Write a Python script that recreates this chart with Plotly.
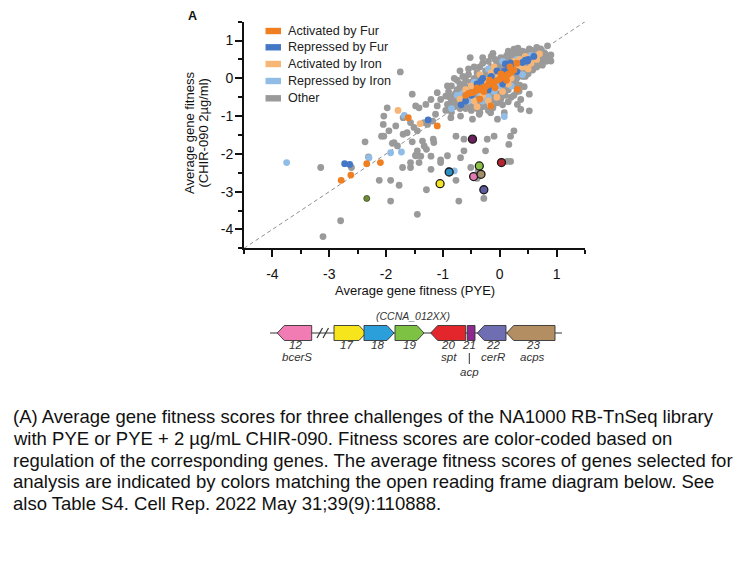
import plotly.graph_objects as go

W, H = 756, 567
FONT = "Arial, Liberation Sans, sans-serif"

# ---------------- data ----------------
x_ticks = [-4, -3, -2, -1, 0, 1]
x_ticklabels = ["-4", "-3", "-2", "-1", "0", "1"]
y_ticks = [-4, -3, -2, -1, 0, 1]
y_ticklabels = ["-4", "-3", "-2", "-1", "0", "1"]

other_x = [
    -1.75, -0.52, -0.12, 0.84, 0.90, 0.60, 0.25, 0.78, -1.54, -1.48, -1.42, -1.30, -1.10,
    -2.04, -1.98, -1.83, -1.70, -1.95, -2.08, -2.37, -1.89, -1.80, -2.31, -2.12, -1.92,
    -1.77, -1.92, -1.29, -1.45, -0.72, -0.28, -0.77, -2.80, -3.11, -3.15, -0.77, -0.63,
    -0.22, -0.10, 0.16, 0.19, 0.25, -0.25, 0.19, 0.13, -0.63, -0.51, -0.92, -1.04, -1.16,
    -1.33, -1.45, -1.48, -1.42, -1.57, -1.57, -1.71, -1.21, -0.69, 0.31, 0.37, 0.52, 0.37,
    0.08, -0.16, -0.48, -0.36, -0.04, -0.28, -0.69, -0.86, 0.34, 0.52, 0.43, -0.95, -1.10,
    -1.04, -1.21, -0.92, -0.80, -2.61, -1.36, -1.54, -1.63, -1.70, -1.86, -2.04, -2.05,
    -1.57, -1.51, -1.45, -1.33, -1.27, -1.18, -1.13, -1.17, -1.29, -1.39, -1.48, -1.21,
    -1.04, -0.40, -0.38,
    0.30, 0.35, 0.42, 0.48, 0.55, 0.60, 0.65, 0.70, 0.75, 0.80, 0.58, 0.45, 0.50, 0.38,
    0.62, 0.68, 0.72, 0.52, 0.40, 0.33, 0.25, 0.28, 0.20, 0.15, 0.22, 0.85, 0.55, 0.45,
    0.35, 0.40, 0.10, 0.05, 0.12, -0.05, -0.15, -0.10, 0.00, 0.18, 0.25, 0.30, 0.20, 0.10,
    0.25, 0.15, 0.05, -0.05, -0.20, -0.25, -0.30, -0.35, -0.25, -0.15, 0.00, -0.10, 0.10,
    0.20, -0.20, -0.30, -0.40, -0.45, -0.40, -0.55, -0.50, -0.60, -0.35, -0.20, 0.30, 0.28,
    -0.50, -0.60, -0.70, -0.65, -0.75, -0.55, -0.45, -0.35, -0.70, -0.80, -0.85, -0.75,
    -0.65, -0.55, -0.45, -0.60, -0.70, -0.80, -0.90, -0.95, -0.85, -0.50, -0.40, -0.30,
    -0.25, -0.15, -0.05, 0.05, -0.20, -0.75, -0.85, -0.90, -0.80,
    0.00, -0.10, 0.15, 0.05, -0.20, 0.35, 0.45, 0.55, -0.45, -0.30, -0.15, 0.08, 0.38,
    0.48, 0.62, 0.70, -0.62, -0.38, -0.25,
    0.02, -0.08, 0.12, -0.30, -0.45, -0.55, -0.65, -0.70, -0.78, -0.62, -0.48, -0.35,
    -0.12, 0.02, 0.15, 0.25, 0.35, 0.45, 0.50, 0.58, 0.65, 0.75, 0.82, 0.90, 0.65, 0.55,
    0.32, 0.15, -0.40, -0.52, -0.42, -0.28, -0.12, 0.12, 0.22, 0.32, 0.42, 0.28, -0.02,
    -0.22, -0.38, -0.58, -0.72, -0.88, -0.92, -0.70, -0.15, -0.30,
]
other_y = [
    0.17, 0.55, 0.66, 0.86, 0.46, 0.72, 0.77, 0.68, -0.42, -0.73, -0.78, -0.69, -0.73,
    -1.00, -0.78, -1.26, -1.04, -1.39, -1.53, -1.68, -1.72, -1.79, -2.08, -2.70, -2.70,
    -2.83, -3.25, -2.95, -3.60, -3.25, -3.18, -2.70, -3.77, -4.19, -2.36, -1.53, -1.61,
    -1.61, -1.53, -1.75, -1.53, -1.39, -1.92, -2.20, -2.20, -1.92, -2.36, -2.05, -2.23, -1.70,
    -1.79, -1.92, -2.05, -2.23, -2.23, -2.36, -2.36, -2.41, -2.10, -0.69, -0.82, -0.86, -0.56,
    -0.91, -0.91, -1.08, -0.95, -1.08, -0.73, -1.00, -1.04, -0.34, -0.42, -0.22, -0.47, -0.38,
    -0.56, -0.56, -0.69, -0.56, -2.36, -1.66, -1.68, -1.44, -1.48, -1.70, -1.53, -1.22,
    -1.17, -1.30, -1.39, -1.17, -1.22, -1.13, -0.95, -1.61, -1.88, -2.06, -2.04, -2.06,
    -2.16, -2.65, -2.45,
    0.45, 0.55, 0.62, 0.70, 0.62, 0.55, 0.68, 0.60, 0.52, 0.65, 0.40, 0.35, 0.48, 0.30,
    0.45, 0.38, 0.78, 0.78, 0.72, 0.65, 0.58, 0.70, 0.62, 0.50, 0.40, 0.55, 0.30, 0.20,
    0.15, 0.05, 0.45, 0.35, 0.30, 0.40, 0.30, 0.20, 0.25, 0.20, 0.10, 0.00, -0.05, -0.10,
    -0.20, -0.30, -0.25, -0.15, 0.10, 0.20, 0.05, -0.05, -0.10, -0.25, -0.40, -0.45, -0.45,
    -0.50, -0.40, -0.30, -0.20, 0.00, 0.15, 0.10, -0.10, -0.05, 0.30, 0.45, -0.35, -0.10,
    -0.30, -0.25, -0.15, -0.35, -0.30, -0.50, -0.55, -0.50, -0.50, -0.45, -0.60, -0.65,
    -0.60, -0.70, -0.70, -0.80, -0.80, -0.75, -0.70, -0.85, -0.90, -0.85, -0.80, -0.75,
    -0.60, -0.60, -0.65, -0.70, -0.85, -0.05, -0.20, -0.35, 0.00,
    0.10, 0.05, 0.05, 0.15, -0.05, 0.35, 0.45, 0.50, -0.40, -0.15, -0.10, -0.18, 0.22,
    0.58, 0.72, 0.48, -0.18, -0.62, -0.32,
    0.55, 0.50, 0.60, 0.40, 0.30, 0.25, 0.05, -0.25, -0.40, -0.70, -0.78, -0.90,
    -0.78, -0.55, -0.62, -0.45, -0.18, 0.05, 0.12, 0.22, 0.30, 0.35, 0.45, 0.62, 0.82, 0.75,
    0.80, 0.72, -0.05, -0.22, -0.48, -0.55, -0.42, -0.30, -0.12, 0.08, 0.40, 0.32, 0.28,
    0.05, -0.18, -0.38, -0.62, -0.50, -0.20, 0.20, 0.58, 0.55,
]

rep_iron_x = [-3.75, -2.30, -1.92, -1.73, -1.68, -0.80, 0.08, -0.30, -0.20, -0.10, -0.55,
              -0.65, 0.00, 0.20, 0.40, 0.55, 0.65, -0.45, -0.75, 0.30, 0.05, -0.20, -0.85,
              -0.35, 0.15, -0.05]
rep_iron_y = [-2.23, -2.10, -1.97, -1.95, -0.98, -2.45, -1.01, -0.60, -0.50, -0.35, -0.60,
              -0.40, -0.20, -0.20, 0.10, 0.60, 0.60, -0.10, -0.45, 0.50, 0.45, 0.25, -0.80,
              -0.40, 0.38, 0.00]

act_iron_x = [0.35, 0.25, 0.10, -0.10, 0.40, 0.55, 0.65, 0.70, -0.25, -0.35, -0.50, -0.45,
              -0.30, 0.05, 0.20, 0.30, -0.60, -0.70, -0.15, 0.50, -1.79, -1.40, -0.05, 0.15,
              -0.40, 0.45, -0.02, -0.20]
act_iron_y = [0.50, 0.45, 0.20, 0.30, 0.30, 0.40, 0.50, 0.65, -0.05, 0.10, -0.20, -0.60,
              -0.45, -0.35, 0.00, 0.25, -0.30, -0.55, 0.15, 0.25, -0.85, -1.20, -0.50, -0.15,
              -0.75, 0.58, 0.05, -0.60]

rep_fur_x = [0.50, 0.45, 0.40, 0.60, 0.20, 0.15, -0.15, -0.30, -0.05, 0.10, -0.40, -0.50,
             -0.20, 0.05, 0.30, -0.60, -0.68, -1.26, -2.73, -2.64, -0.33, 0.08, 0.19, 0.49,
             -0.90]
rep_fur_y = [0.50, 0.48, 0.42, 0.58, 0.35, 0.25, 0.05, 0.00, 0.20, 0.38, -0.15, -0.45,
             -0.30, -0.15, 0.18, -0.60, -0.70, -1.10, -2.26, -2.28, -0.07, 0.19, 0.41, 0.46,
             -2.45]

act_fur_x = [-0.55, -0.48, -0.42, -0.36, -0.30, -0.25, -0.20, -0.15, -0.10, -0.05, 0.00,
             0.05, 0.10, 0.15, 0.20, 0.25, -0.40, -0.28, -0.18, 0.02, 0.12, -0.08, 0.18,
             0.30, -0.35, -0.60, 0.31, -0.16, -2.79, -2.62, -2.34, -2.10, -1.61, -1.10]
act_fur_y = [-0.40, -0.38, -0.33, -0.30, -0.26, -0.22, -0.17, -0.14, -0.10, -0.06, -0.02,
             0.03, 0.07, 0.11, 0.16, 0.22, -0.25, -0.35, -0.05, 0.12, -0.05, -0.25, 0.30,
             0.40, -0.55, -0.45, -0.29, -0.73, -2.70, -2.56, -2.26, -2.23, -1.04, -1.26]

# selected genes (CCNA_012XX) and their average fitness
sel_genes = ["12 bcerS", "17", "18", "19", "20 spt", "21 acp", "22 cerR", "23 acps"]
sel_x = [-0.46, -1.05, -0.89, -0.36, 0.03, -0.48, -0.28, -0.33]
sel_y = [-2.60, -2.79, -2.48, -2.32, -2.23, -1.61, -2.95, -2.54]
sel_colors = ["#e07ab0", "#f2e324", "#2b8fc4", "#8cbf45", "#b52431", "#6e1f5e", "#5e5c9e", "#a39068"]
extra_x = [-2.34]
extra_y = [-3.18]

legend_names = ["Activated by Fur", "Repressed by Fur", "Activated by Iron", "Repressed by Iron", "Other"]
legend_colors = ["#f07f22", "#4478c6", "#f8b676", "#90bce6", "#9a9a9a"]

x_title = "Average gene fitness (PYE)"
y_title_lines = ["Average gene fitness", "(CHIR-090 2\u00b5g/ml)"]

orf_numbers = ["12", "17", "18", "19", "20", "21", "22", "23"]
orf_names = ["bcerS", "", "", "", "spt", "acp", "cerR", "acps"]
orf_colors = ["#f07cb3", "#f6e41c", "#2a9fda", "#7dc243", "#e3262c", "#8c2a8f", "#6f6eb2", "#b48e63"]
orf_caption = "(CCNA_012XX)"

caption_lines = [
    "(A) Average gene fitness scores for three challenges of the NA1000 RB-TnSeq library",
    "with PYE or PYE + 2 \u00b5g/mL CHIR-090. Fitness scores are color-coded based on",
    "regulation of the corresponding genes. The average fitness scores of genes selected for",
    "analysis are indicated by colors matching the open reading frame diagram below. See",
    "also Table S4. Cell Rep. 2022 May 31;39(9):110888.",
]

# ---------------- helpers (pixel -> paper) ----------------
def PX(x):
    return x / W

def PY(y):
    return 1 - y / H

PLOT_L, PLOT_R, PLOT_T, PLOT_B = 244, 585, 21.7, 248.3

fig = go.Figure()

# reference diagonal
fig.add_trace(go.Scatter(x=[-4.5, 1.5], y=[-4.5, 1.5], mode="lines",
                         line=dict(color="#8f8f8f", width=1, dash="4px,3px"),
                         showlegend=False, hoverinfo="skip"))

MS = 6.8
series = [
    ("Other", other_x, other_y, legend_colors[4]),
    ("Repressed by Iron", rep_iron_x, rep_iron_y, legend_colors[3]),
    ("Activated by Iron", act_iron_x, act_iron_y, legend_colors[2]),
    ("Repressed by Fur", rep_fur_x, rep_fur_y, legend_colors[1]),
    ("Activated by Fur", act_fur_x, act_fur_y, legend_colors[0]),
]
for name, xs, ys, col in series:
    fig.add_trace(go.Scatter(x=xs, y=ys, mode="markers", name=name,
                             marker=dict(size=MS, color=col, line=dict(width=0)),
                             showlegend=False))

fig.add_trace(go.Scatter(x=extra_x, y=extra_y, mode="markers", name="other selected",
                         marker=dict(size=6, color="#6f8a3a", line=dict(width=0.8, color="#3a4a20")),
                         showlegend=False))
fig.add_trace(go.Scatter(x=sel_x, y=sel_y, mode="markers", name="Selected genes",
                         text=sel_genes,
                         marker=dict(size=8, color=sel_colors, line=dict(width=1.3, color="#1a1a1a")),
                         showlegend=False))

shapes = []
annotations = []

# custom legend
leg_rows = [31, 47.3, 64, 81, 98.3]
for name, col, yy in zip(legend_names, legend_colors, leg_rows):
    shapes.append(dict(type="rect", xref="paper", yref="paper",
                       x0=PX(265.5), x1=PX(281), y0=PY(yy - 3.2), y1=PY(yy + 3.2),
                       fillcolor=col, line=dict(width=0)))
    annotations.append(dict(xref="paper", yref="paper", x=PX(285.5), y=PY(yy), text=name,
                            showarrow=False, xanchor="left", yanchor="middle",
                            font=dict(family=FONT, size=12.6, color="#222")))

# panel label
annotations.append(dict(xref="paper", yref="paper", x=PX(186), y=PY(16), text="<b>A</b>",
                        showarrow=False, xanchor="left", yanchor="middle",
                        font=dict(family=FONT, size=12.5, color="#111")))

# axis titles
annotations.append(dict(xref="paper", yref="paper", x=PX(415), y=PY(290), text=x_title,
                        showarrow=False, xanchor="center", yanchor="middle",
                        font=dict(family=FONT, size=13, color="#111")))
for xx, t in zip([190, 203.5], y_title_lines):
    annotations.append(dict(xref="paper", yref="paper", x=PX(xx), y=PY(133), text=t,
                            textangle=-90, showarrow=False, xanchor="center", yanchor="middle",
                            font=dict(family=FONT, size=13, color="#111")))

# ORF diagram
TOP, BOT, MID = 325.5, 340.5, 333
shapes.append(dict(type="line", xref="paper", yref="paper", x0=PX(270), x1=PX(562),
                   y0=PY(MID), y1=PY(MID), line=dict(color="#333", width=1.2)))
for xa in (317, 323):
    shapes.append(dict(type="line", xref="paper", yref="paper", x0=PX(xa), x1=PX(xa + 5.5),
                       y0=PY(338), y1=PY(328), line=dict(color="#333", width=1.2)))

orf_geom = [  # (left, right, direction)
    (277.3, 311.7, "L"), (334, 366, "R"), (364, 394, "R"), (395, 424, "R"),
    (430.7, 465.7, "L"), (467.3, 475, "B"), (477.3, 506, "L"), (506.7, 555, "L"),
]
HEAD = 7

def path_for(xl, xr, d):
    if d == "R":
        sh = xr - HEAD
        pts = [(xl, TOP), (sh, TOP), (xr, MID), (sh, BOT), (xl, BOT)]
    elif d == "L":
        sh = xl + HEAD
        pts = [(xl, MID), (sh, TOP), (xr, TOP), (xr, BOT), (sh, BOT)]
    else:
        pts = [(xl, TOP), (xr, TOP), (xr, BOT), (xl, BOT)]
    return "M " + " L ".join(f"{PX(a):.5f},{PY(b):.5f}" for a, b in pts) + " Z"

for (xl, xr, d), col in zip(orf_geom, orf_colors):
    shapes.append(dict(type="path", xref="paper", yref="paper", path=path_for(xl, xr, d),
                       fillcolor=col, line=dict(color="#333", width=0.9)))

num_x = [295, 346, 377, 409, 448, 469.3, 493, 533]
name_x = [297, None, None, None, 449, 469.3, 493, 532]
GF = dict(family=FONT, size=11.5, color="#333")
for i, (num, nm) in enumerate(zip(orf_numbers, orf_names)):
    annotations.append(dict(xref="paper", yref="paper", x=PX(num_x[i]), y=PY(345),
                            text=f"<i>{num}</i>", showarrow=False, xanchor="center",
                            yanchor="middle", font=GF))
    if nm and nm != "acp":
        annotations.append(dict(xref="paper", yref="paper", x=PX(name_x[i]), y=PY(357),
                                text=f"<i>{nm}</i>", showarrow=False, xanchor="center",
                                yanchor="middle", font=GF))
    elif nm == "acp":
        annotations.append(dict(xref="paper", yref="paper", x=PX(name_x[i]), y=PY(372),
                                text=f"<i>{nm}</i>", showarrow=False, xanchor="center",
                                yanchor="middle", font=GF))
        shapes.append(dict(type="line", xref="paper", yref="paper", x0=PX(469.3), x1=PX(469.3),
                           y0=PY(353), y1=PY(364), line=dict(color="#333", width=1)))

annotations.append(dict(xref="paper", yref="paper", x=PX(413), y=PY(316), text=f"<i>{orf_caption}</i>",
                        showarrow=False, xanchor="center", yanchor="middle",
                        font=dict(family=FONT, size=10.5, color="#333")))

# caption
cap_y = [416.7, 438.3, 460, 481.7, 503.3]
for line, yy in zip(caption_lines, cap_y):
    annotations.append(dict(xref="paper", yref="paper", x=PX(11), y=PY(yy), text=line,
                            showarrow=False, xanchor="left", yanchor="middle",
                            font=dict(family=FONT, size=18.5, color="#111")))

axis_common = dict(
    showgrid=False, zeroline=False, showline=True, linecolor="#111", linewidth=1.8,
    ticks="outside", ticklen=7, tickwidth=1.6, tickcolor="#111",
    tickfont=dict(family=FONT, size=14, color="#111"),
    range=[-4.5, 1.5],
    minor=dict(tickvals=[-4.5, -3.5, -2.5, -1.5, -0.5, 0.5, 1.5], ticks="outside",
               ticklen=4, tickwidth=1.6, tickcolor="#111"),
)

fig.update_layout(
    width=W, height=H, margin=dict(l=0, r=0, t=0, b=0, pad=0),
    paper_bgcolor="white", plot_bgcolor="white",
    showlegend=False,
    xaxis=dict(domain=[PX(PLOT_L), PX(PLOT_R)], tickvals=x_ticks, ticktext=x_ticklabels,
               ticklabelstandoff=5, **axis_common),
    yaxis=dict(domain=[PY(PLOT_B), PY(PLOT_T)], tickvals=y_ticks, ticktext=y_ticklabels,
               ticklabelstandoff=-1, **axis_common),
    shapes=shapes, annotations=annotations,
    font=dict(family=FONT),
)

fig.write_html("out.html", config={"displayModeBar": False},
               post_script="document.body.style.margin='0px';")
